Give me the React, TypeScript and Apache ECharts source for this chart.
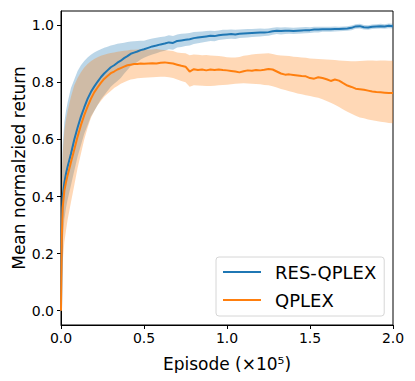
import React, { useEffect, useRef } from "react";
import * as echarts from "echarts";

const episodes = [
  0, 0.005, 0.01, 0.02, 0.03, 0.04, 0.06, 0.08, 0.10, 0.12, 0.14, 0.16, 0.18, 0.20,
  0.22, 0.24, 0.26, 0.28, 0.30, 0.32, 0.34, 0.36, 0.38, 0.40, 0.42, 0.44, 0.46, 0.48,
  0.5, 0.525, 0.55, 0.575, 0.6, 0.625, 0.65, 0.675, 0.7, 0.725, 0.75, 0.775, 0.8, 0.825,
  0.85, 0.875, 0.9, 0.925, 0.95, 0.975, 1.0, 1.025, 1.05, 1.075, 1.1, 1.125, 1.15, 1.175,
  1.2, 1.225, 1.25, 1.275, 1.3, 1.325, 1.35, 1.375, 1.4, 1.425, 1.45, 1.475, 1.5, 1.525,
  1.55, 1.575, 1.6, 1.625, 1.65, 1.675, 1.7, 1.725, 1.75, 1.775, 1.8, 1.825, 1.85, 1.875,
  1.9, 1.925, 1.95, 1.975, 2.0,
];

const resMean = [
  0.0, 0.30, 0.40, 0.448, 0.48, 0.505, 0.55, 0.60, 0.642, 0.68, 0.712, 0.742, 0.766, 0.785,
  0.802, 0.818, 0.831, 0.842, 0.853, 0.860, 0.869, 0.876, 0.885, 0.892, 0.900, 0.904, 0.908, 0.913,
  0.916, 0.921, 0.926, 0.929, 0.933, 0.936, 0.940, 0.938, 0.945, 0.947, 0.949, 0.951, 0.955, 0.957,
  0.959, 0.961, 0.963, 0.962, 0.965, 0.967, 0.968, 0.969, 0.968, 0.970, 0.971, 0.972, 0.973, 0.974,
  0.975, 0.975, 0.976, 0.979, 0.981, 0.980, 0.981, 0.981, 0.980, 0.981, 0.982, 0.983, 0.983, 0.985,
  0.985, 0.986, 0.986, 0.986, 0.987, 0.987, 0.988, 0.989, 0.991, 0.996, 0.997, 0.993, 0.992, 0.995,
  0.996, 0.997, 0.996, 0.998, 0.997,
];
const resUpper = [
  0.0, 0.48, 0.58, 0.66, 0.70, 0.73, 0.78, 0.81, 0.84, 0.86, 0.875, 0.887, 0.897, 0.905,
  0.911, 0.916, 0.921, 0.925, 0.929, 0.932, 0.935, 0.937, 0.939, 0.941, 0.943, 0.944, 0.945, 0.946,
  0.946, 0.950, 0.954, 0.956, 0.959, 0.961, 0.965, 0.962, 0.968, 0.970, 0.971, 0.973, 0.976, 0.977,
  0.978, 0.980, 0.981, 0.980, 0.982, 0.984, 0.984, 0.985, 0.984, 0.985, 0.986, 0.987, 0.987, 0.988,
  0.989, 0.988, 0.989, 0.991, 0.993, 0.992, 0.993, 0.992, 0.991, 0.992, 0.993, 0.994, 0.993, 0.995,
  0.995, 0.995, 0.995, 0.995, 0.996, 0.995, 0.996, 0.997, 0.999, 1.004, 1.005, 1.001, 1.000, 1.003,
  1.004, 1.005, 1.004, 1.006, 1.005,
];
const resLower = [
  0.0, 0.15, 0.24, 0.32, 0.36, 0.39, 0.44, 0.49, 0.54, 0.58, 0.62, 0.65, 0.68, 0.70,
  0.72, 0.74, 0.755, 0.77, 0.785, 0.795, 0.805, 0.815, 0.83, 0.843, 0.857, 0.864, 0.871, 0.880,
  0.886, 0.892, 0.898, 0.902, 0.907, 0.911, 0.916, 0.914, 0.922, 0.924, 0.927, 0.929, 0.934, 0.937,
  0.940, 0.942, 0.945, 0.944, 0.948, 0.950, 0.952, 0.953, 0.952, 0.955, 0.956, 0.957, 0.959, 0.960,
  0.961, 0.962, 0.963, 0.967, 0.969, 0.968, 0.969, 0.970, 0.969, 0.970, 0.971, 0.972, 0.973, 0.975,
  0.975, 0.977, 0.977, 0.977, 0.978, 0.979, 0.980, 0.981, 0.983, 0.988, 0.989, 0.985, 0.984, 0.987,
  0.988, 0.989, 0.988, 0.990, 0.989,
];

const qplexMean = [
  0.0, 0.26, 0.36, 0.42, 0.45, 0.475, 0.52, 0.565, 0.61, 0.65, 0.685, 0.715, 0.742, 0.765,
  0.782, 0.798, 0.812, 0.822, 0.832, 0.838, 0.845, 0.850, 0.855, 0.860, 0.862, 0.864, 0.864, 0.866,
  0.865, 0.866, 0.867, 0.866, 0.869, 0.870, 0.868, 0.866, 0.862, 0.858, 0.855, 0.838, 0.846, 0.843,
  0.845, 0.842, 0.845, 0.843, 0.845, 0.843, 0.842, 0.840, 0.838, 0.835, 0.839, 0.842, 0.841, 0.843,
  0.842, 0.844, 0.847, 0.845, 0.838, 0.831, 0.827, 0.828, 0.826, 0.824, 0.822, 0.821, 0.815, 0.813,
  0.818, 0.815, 0.811, 0.805, 0.810, 0.806, 0.797, 0.789, 0.784, 0.778, 0.776, 0.774, 0.771, 0.768,
  0.766, 0.765, 0.764, 0.763, 0.763,
];
const qplexUpper = [
  0.0, 0.45, 0.55, 0.63, 0.67, 0.70, 0.75, 0.79, 0.815, 0.835, 0.852, 0.864, 0.874, 0.882,
  0.888, 0.893, 0.897, 0.900, 0.903, 0.905, 0.907, 0.909, 0.911, 0.912, 0.914, 0.914, 0.915, 0.916,
  0.915, 0.914, 0.915, 0.917, 0.914, 0.913, 0.912, 0.910, 0.905, 0.903, 0.902, 0.895, 0.898, 0.897,
  0.895, 0.896, 0.894, 0.893, 0.892, 0.891, 0.888, 0.887, 0.887, 0.889, 0.893, 0.895, 0.898, 0.899,
  0.900, 0.901, 0.902, 0.899, 0.896, 0.894, 0.893, 0.892, 0.890, 0.889, 0.887, 0.886, 0.884, 0.883,
  0.882, 0.881, 0.880, 0.879, 0.878, 0.877, 0.876, 0.875, 0.874, 0.874, 0.875, 0.876, 0.877, 0.877,
  0.876, 0.877, 0.877, 0.876, 0.876,
];
const qplexLower = [
  0.0, 0.10, 0.17, 0.24, 0.28, 0.32, 0.38, 0.44, 0.50, 0.55, 0.60, 0.64, 0.675, 0.70,
  0.72, 0.735, 0.75, 0.76, 0.77, 0.78, 0.787, 0.795, 0.80, 0.806, 0.81, 0.812, 0.814, 0.815,
  0.816, 0.817, 0.818, 0.819, 0.820, 0.820, 0.818, 0.815, 0.810, 0.805, 0.800, 0.785, 0.790, 0.789,
  0.788, 0.787, 0.787, 0.788, 0.790, 0.791, 0.792, 0.793, 0.795, 0.796, 0.797, 0.796, 0.795, 0.794,
  0.793, 0.791, 0.790, 0.786, 0.782, 0.777, 0.773, 0.769, 0.765, 0.761, 0.758, 0.755, 0.752, 0.749,
  0.746, 0.741, 0.735, 0.729, 0.722, 0.714, 0.705, 0.697, 0.690, 0.683, 0.677, 0.674, 0.670, 0.667,
  0.665, 0.662, 0.660, 0.658, 0.657,
];

const xTicks = [0, 0.5, 1.0, 1.5, 2.0];
const yTicks = [0, 0.2, 0.4, 0.6, 0.8, 1.0];

const BLUE = "#1f77b4";
const ORANGE = "#ff7f0e";
const FONT = "DejaVu Sans";

function bandSeries(name: string, lo: number[], hi: number[], fill: string, z: number) {
  return {
    name,
    type: "custom",
    silent: true,
    clip: true,
    z,
    data: episodes.map((x, i) => [x, lo[i], hi[i]]),
    encode: { x: 0, y: [1, 2] },
    renderItem: (params: any, api: any) => {
      if (params.dataIndex !== 0) return null;
      const pts: number[][] = [];
      for (let i = 0; i < episodes.length; i++) pts.push(api.coord([episodes[i], hi[i]]));
      for (let i = episodes.length - 1; i >= 0; i--) pts.push(api.coord([episodes[i], lo[i]]));
      return { type: "polygon", shape: { points: pts }, style: { fill } };
    },
  };
}

export default function App() {
  const ref = useRef<HTMLDivElement>(null);
  useEffect(() => {
    if (!ref.current) return;
    const chart = echarts.init(ref.current, null, { renderer: "svg" });
    chart.setOption({
      animation: false,
      grid: {
        left: 61, top: 11, right: 22, bottom: 56,
        containLabel: false,
        outerBoundsMode: "none",
        show: true, borderColor: "#000", borderWidth: 1, backgroundColor: "transparent",
      },
      legend: {
        orient: "vertical",
        left: 216,
        top: 257,
        data: ["RES-QPLEX", "QPLEX"],
        icon: "rect",
        itemWidth: 38,
        itemHeight: 2,
        itemGap: 8,
        padding: [5, 8, 6, 7],
        backgroundColor: "#fff",
        borderColor: "#d6d6d6",
        borderWidth: 1,
        borderRadius: 3,
        textStyle: { fontFamily: FONT, fontSize: 18, color: "#000", lineHeight: 20, padding: [0, 0, 0, 9] },
      },
      xAxis: {
        type: "value",
        min: 0,
        max: 2,
        interval: 0.5,
        name: "Episode (×10⁵)",
        nameLocation: "middle",
        nameGap: 30,
        nameTextStyle: { fontFamily: FONT, fontSize: 17, color: "#000" },
        axisLine: { show: true, onZero: false, lineStyle: { color: "#000", width: 1 } },
        axisTick: { show: true, length: 4, lineStyle: { color: "#000" }, customValues: xTicks },
        axisLabel: {
          fontFamily: FONT, fontSize: 14, color: "#000", margin: 6,
          customValues: xTicks,
          formatter: (v: number) => v.toFixed(1),
        },
        splitLine: { show: false },
      },
      yAxis: {
        type: "value",
        min: -0.05,
        max: 1.05,
        name: "Mean normalzied return",
        nameLocation: "middle",
        nameMoveOverlap: false,
        nameGap: 34,
        nameTextStyle: { fontFamily: FONT, fontSize: 17, color: "#000" },
        axisLine: { show: true, onZero: false, lineStyle: { color: "#000", width: 1 } },
        axisTick: { show: true, length: 4, lineStyle: { color: "#000" }, customValues: yTicks },
        axisLabel: {
          fontFamily: FONT, fontSize: 14, color: "#000", margin: 7,
          customValues: yTicks,
          formatter: (v: number) => v.toFixed(1),
        },
        splitLine: { show: false },
      },
      series: [
        bandSeries("RES-QPLEX band", resLower, resUpper, "rgba(31,119,180,0.3)", 1),
        bandSeries("QPLEX band", qplexLower, qplexUpper, "rgba(255,127,14,0.3)", 2),
        {
          name: "RES-QPLEX",
          type: "line",
          data: episodes.map((x, i) => [x, resMean[i]]),
          showSymbol: false,
          lineStyle: { color: BLUE, width: 2 },
          itemStyle: { color: BLUE },
          z: 3,
        },
        {
          name: "QPLEX",
          type: "line",
          data: episodes.map((x, i) => [x, qplexMean[i]]),
          showSymbol: false,
          lineStyle: { color: ORANGE, width: 2 },
          itemStyle: { color: ORANGE },
          z: 4,
        },
      ],
    });
    return () => chart.dispose();
  }, []);
  return <div ref={ref} style={{ width: 415, height: 381, margin: -8 }} />;
}
